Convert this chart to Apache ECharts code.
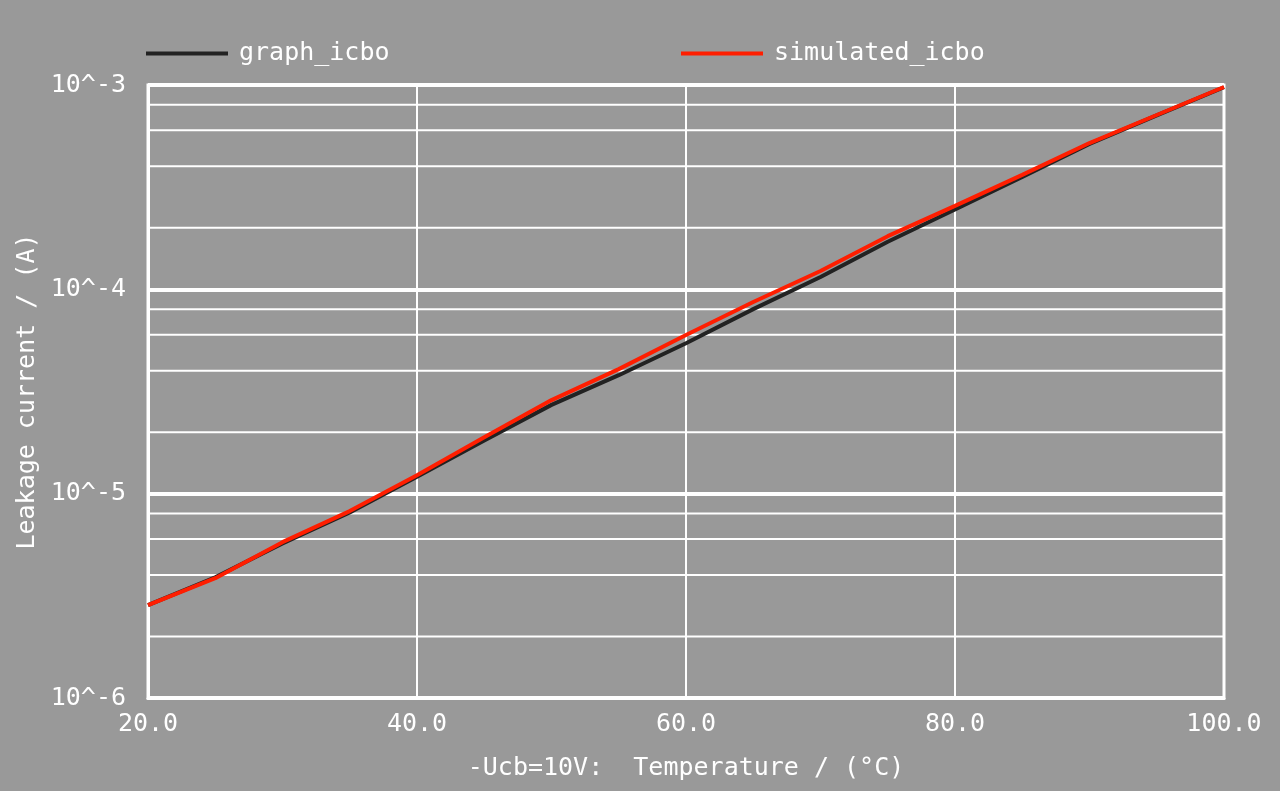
<!DOCTYPE html>
<html>
<head>
<meta charset="utf-8">
<script src="https://cdn.jsdelivr.net/npm/echarts@6/dist/echarts.min.js"></script>
<style>
html,body{margin:0;padding:0;background:#999999;}
#chart{width:1280px;height:791px;}
</style>
</head>
<body>
<div id="chart"></div>
<script>
// Temperature (°C)
var temperatures = [20, 25, 30, 35, 40, 45, 50, 55, 60, 65, 70, 75, 80, 85, 90, 95, 100];
// graph_icbo (A)
var graphIcbo = [2.85e-6, 3.9e-6, 5.7e-6, 8.1e-6, 1.21e-5, 1.82e-5, 2.72e-5, 3.8e-5, 5.45e-5, 8.0e-5, 1.15e-4, 1.71e-4, 2.46e-4, 3.55e-4, 5.15e-4, 7.1e-4, 9.75e-4];
// simulated_icbo (A)
var simulatedIcbo = [2.85e-6, 3.86e-6, 5.79e-6, 8.22e-6, 1.23e-5, 1.89e-5, 2.87e-5, 4.07e-5, 5.98e-5, 8.67e-5, 1.23e-4, 1.82e-4, 2.56e-4, 3.63e-4, 5.2e-4, 7.13e-4, 9.78e-4];
// tick labels
var xTickLabels = ['20.0', '40.0', '60.0', '80.0', '100.0'];
var yTickLabels = ['10^-6', '10^-5', '10^-4', '10^-3'];
// minor grid values (2,4,6,8 in each decade)
var minorGridValues = [2e-6, 4e-6, 6e-6, 8e-6, 2e-5, 4e-5, 6e-5, 8e-5, 2e-4, 4e-4, 6e-4, 8e-4];
var xRange = [20, 100];

var FONT = 'DejaVu Sans Mono';
var FS = 25;
var chart = echarts.init(document.getElementById('chart'), null, {renderer: 'canvas'});

function pairs(xs, ys) { return xs.map(function (x, i) { return [x, ys[i]]; }); }

var minorSeries = minorGridValues.map(function (v, i) {
  return {
    name: 'minor' + i, type: 'line', silent: true, z: 1,
    data: [[xRange[0], v], [xRange[1], v]],
    showSymbol: false, symbol: 'none',
    lineStyle: {color: '#ffffff', width: 2}, itemStyle: {color: '#ffffff'},
    tooltip: {show: false}
  };
});

var option = {
  backgroundColor: '#999999',
  animation: false,
  textStyle: {fontFamily: FONT},
  grid: {left: 148, right: 56, top: 85, bottom: 93, show: true, backgroundColor: '#999999', borderColor: '#ffffff', borderWidth: 3},
  legend: [
    {left: 141, top: 36, itemWidth: 82, itemHeight: 4, icon: 'rect', data: ['graph_icbo'],
     textStyle: {color: '#ffffff', fontFamily: FONT, fontSize: FS, padding: [0, 0, 0, 6]}},
    {left: 676, top: 36, itemWidth: 82, itemHeight: 4, icon: 'rect', data: ['simulated_icbo'],
     textStyle: {color: '#ffffff', fontFamily: FONT, fontSize: FS, padding: [0, 0, 0, 6]}}
  ],
  xAxis: {
    type: 'value', min: xRange[0], max: xRange[1], interval: 20,
    name: '-Ucb=10V:  Temperature / (°C)', nameLocation: 'middle', nameGap: 58,
    nameTextStyle: {color: '#ffffff', fontFamily: FONT, fontSize: FS},
    axisLine: {show: true, lineStyle: {color: '#ffffff', width: 3}},
    axisTick: {show: false},
    axisLabel: {color: '#ffffff', fontFamily: FONT, fontSize: FS, margin: 14,
      formatter: function (v) { return xTickLabels[Math.round((v - 20) / 20)] || ''; }},
    splitLine: {show: true, lineStyle: {color: '#ffffff', width: 2}}
  },
  yAxis: {
    type: 'log', logBase: 10, min: 1e-6, max: 1e-3,
    name: 'Leakage current / (A)', nameLocation: 'middle', nameGap: 107, nameRotate: 90,
    nameTextStyle: {color: '#ffffff', fontFamily: FONT, fontSize: FS},
    axisLine: {show: true, lineStyle: {color: '#ffffff', width: 3}},
    axisTick: {show: false},
    axisLabel: {color: '#ffffff', fontFamily: FONT, fontSize: FS, margin: 22,
      formatter: function (v) { var e = Math.round(Math.log10(v)); return yTickLabels[e + 6] || ''; }},
    splitLine: {show: true, lineStyle: {color: '#ffffff', width: 4}}
  },
  series: minorSeries.concat([
    {
      name: 'graph_icbo', type: 'line', data: pairs(temperatures, graphIcbo),
      showSymbol: false, symbol: 'none', z: 3,
      lineStyle: {color: '#222222', width: 4}, itemStyle: {color: '#222222'}
    },
    {
      name: 'simulated_icbo', type: 'line', data: pairs(temperatures, simulatedIcbo),
      showSymbol: false, symbol: 'none', z: 4,
      lineStyle: {color: '#ff1e00', width: 4}, itemStyle: {color: '#ff1e00'}
    }
  ])
};
chart.setOption(option);
</script>
</body>
</html>
